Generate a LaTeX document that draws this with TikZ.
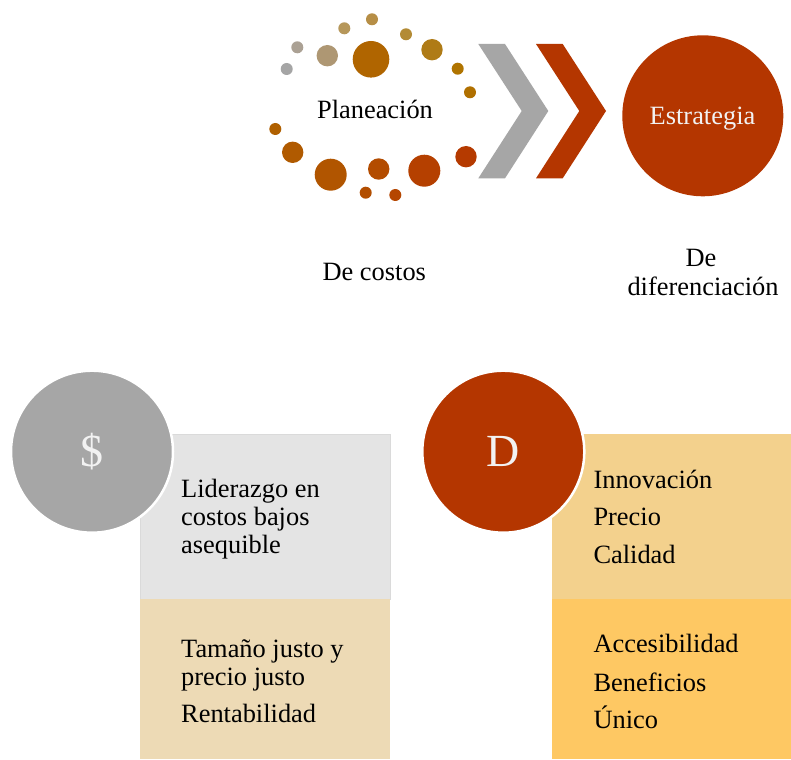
\documentclass[tikz,border=0pt]{standalone}
\usepackage{fontspec}
\setmainfont{Liberation Serif}
\definecolor{cgray}{HTML}{A6A6A6}
\definecolor{cred}{HTML}{B43600}
\definecolor{boxgray}{HTML}{E4E4E4}
\definecolor{boxgrayline}{HTML}{DADADA}
\definecolor{boxtan}{HTML}{EDDAB5}
\definecolor{boxlgold}{HTML}{F3D18D}
\definecolor{boxgold}{HTML}{FEC863}
\definecolor{txtw}{HTML}{F2F2F2}
\definecolor{d1}{HTML}{A5A5A5}
\definecolor{d2}{HTML}{ABA194}
\definecolor{d3}{HTML}{AE9773}
\definecolor{d4}{HTML}{B6975A}
\definecolor{d5}{HTML}{B68E46}
\definecolor{d6}{HTML}{B06500}
\definecolor{d7}{HTML}{B38B35}
\definecolor{d8}{HTML}{AF7B16}
\definecolor{d9}{HTML}{B07400}
\definecolor{d10}{HTML}{B07000}
\definecolor{d11}{HTML}{B06000}
\definecolor{d12}{HTML}{B05A00}
\definecolor{d13}{HTML}{B15500}
\definecolor{d14}{HTML}{B34C00}
\definecolor{d15}{HTML}{B24E00}
\definecolor{d16}{HTML}{B54600}
\definecolor{d17}{HTML}{B54000}
\definecolor{d18}{HTML}{B53A00}
\begin{document}
\begin{tikzpicture}[x=1pt,y=-1pt,
  txt/.style={font=\fontsize{26.4}{28}\selectfont, inner sep=0pt, text=black},
  bigtxt/.style={font=\fontsize{46}{48}\selectfont, inner sep=0pt, text=txtw},
  dot/.style={circle, inner sep=0pt, minimum size=#1},
  box/.style={rectangle, inner sep=0pt, anchor=north west},
  badge/.style={circle, inner sep=0pt, minimum size=162pt, draw=white, line width=2.5pt}
]
\useasboundingbox[fill=white] (0,0) rectangle (791,759);

% ring of dots
\node[dot=12pt,   fill=d1]  (p1)  at (286.7,69.0) {};
\node[dot=12pt,   fill=d2]  (p2)  at (297.3,47.3) {};
\node[dot=21.4pt, fill=d3]  (p3)  at (327.3,55.7) {};
\node[dot=12pt,   fill=d4]  (p4)  at (344.3,28.3) {};
\node[dot=12pt,   fill=d5]  (p5)  at (372.0,19.3) {};
\node[dot=36.6pt, fill=d6]  (p6)  at (371.0,59.3) {};
\node[dot=12pt,   fill=d7]  (p7)  at (406.0,34.3) {};
\node[dot=21.4pt, fill=d8]  (p8)  at (432.0,49.7) {};
\node[dot=12pt,   fill=d9]  (p9)  at (457.7,68.7) {};
\node[dot=12pt,   fill=d10] (p10) at (470.0,92.3) {};
\node[dot=12pt,   fill=d11] (p11) at (275.3,129.0) {};
\node[dot=21.4pt, fill=d12] (p12) at (292.7,152.3) {};
\node[dot=32pt,   fill=d13] (p13) at (330.7,174.7) {};
\node[dot=21.4pt, fill=d14] (p14) at (378.7,169.0) {};
\node[dot=12pt,   fill=d15] (p15) at (365.7,192.7) {};
\node[dot=12pt,   fill=d16] (p16) at (395.3,195.0) {};
\node[dot=32pt,   fill=d17] (p17) at (424.3,170.7) {};
\node[dot=21.4pt, fill=d18] (p18) at (466.0,156.7) {};
\node[txt, anchor=base] (plan) at (375,119) {Planeación};

% chevrons
\fill[cgray] (478.3,44) -- (505,44) -- (548.3,111) -- (505,178.3) -- (478.3,178.3) -- (521.7,111) -- cycle;
\fill[cred] (536,44) -- (562.7,44) -- (606,111) -- (562.7,178.3) -- (536,178.3) -- (579.3,111) -- cycle;

% strategy circle
\node[circle, inner sep=0pt, minimum size=161pt, fill=cred] (estr) at (702.8,115.8) {};
\node[txt, text=txtw, anchor=base] (estrt) at (702.5,124.3) {Estrategia};

% labels
\node[txt, anchor=base] (costos) at (374.3,280.7) {De costos};
\node[txt, anchor=base] (dif1) at (701,266.7) {De};
\node[txt, anchor=base] (dif2) at (703,295) {diferenciación};

% left boxes
\node[box, fill=boxgray, draw=boxgrayline, line width=0.8pt, minimum width=250pt, minimum height=165pt] (lb1) at (140,434) {};
\node[box, fill=boxtan, minimum width=250pt, minimum height=160pt] (lb2) at (140,599) {};
% right boxes
\node[box, fill=boxlgold, minimum width=240pt, minimum height=165pt] (rb1) at (551.7,434) {};
\node[box, fill=boxgold, minimum width=240pt, minimum height=160pt] (rb2) at (551.7,599) {};

% badges
\node[badge, fill=cgray] (sc) at (92,451.7) {};
\node[bigtxt, anchor=base] (sct) at (91.7,466.7) {\$};
\node[badge, fill=cred] (dc) at (503.3,451.7) {};
\node[bigtxt, anchor=base] (dct) at (503.3,466.7) {D};

% left texts
\node[txt, anchor=base west] (l1) at (181,497.7) {Liderazgo en};
\node[txt, anchor=base west] (l2) at (181,525.7) {costos bajos};
\node[txt, anchor=base west] (l3) at (181,553.3) {asequible};
\node[txt, anchor=base west] (l4) at (181,657.7) {Tamaño justo y};
\node[txt, anchor=base west] (l5) at (181,685.0) {precio justo};
\node[txt, anchor=base west] (l6) at (181,722.7) {Rentabilidad};

% right texts
\node[txt, anchor=base west] (r1) at (593.3,488.3) {Innovación};
\node[txt, anchor=base west] (r2) at (593.3,525.7) {Precio};
\node[txt, anchor=base west] (r3) at (593.3,563.3) {Calidad};
\node[txt, anchor=base west] (r4) at (593.3,652.3) {Accesibilidad};
\node[txt, anchor=base west] (r5) at (593.3,691.0) {Beneficios};
\node[txt, anchor=base west] (r6) at (593.3,728.3) {Único};
\end{tikzpicture}
\end{document}
